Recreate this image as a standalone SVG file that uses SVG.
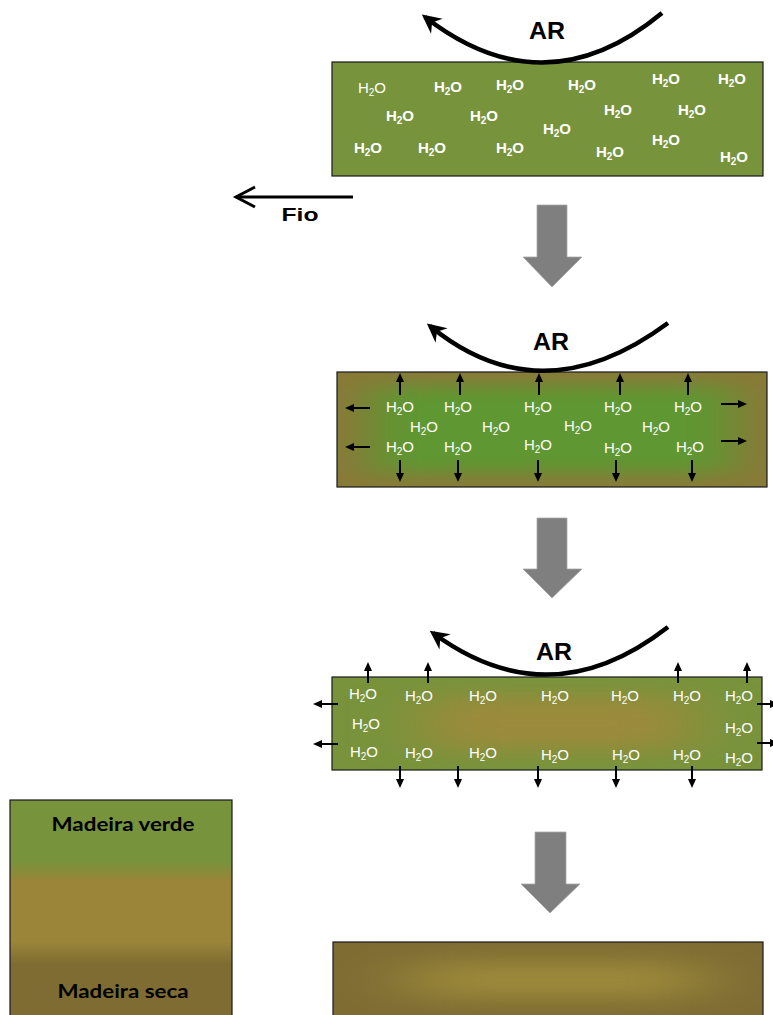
<svg xmlns="http://www.w3.org/2000/svg" width="773" height="1015" viewBox="0 0 773 1015">
  <style>
    .h2o { font-family: "Liberation Sans", Arial, sans-serif; font-size: 15px; fill: #ffffff; text-anchor: middle; }
    .b { font-weight: bold; }
    .sub { font-size: 10px; }
    .ar { font-family: "Liberation Sans", Arial, sans-serif; font-weight: bold; font-size: 23px; fill: #000; text-anchor: middle; }
    .lbl { font-family: "Liberation Sans", Arial, sans-serif; font-weight: bold; font-size: 18px; fill: #000; text-anchor: middle; }
    .legend { font-family: Lato, "Liberation Sans", sans-serif; font-weight: bold; font-size: 18.5px; fill: #000; text-anchor: middle; }
    .flow { fill: none; stroke: #000; stroke-width: 4.5; marker-end: url(#arcHead); }
    .tick { fill: none; stroke: #000; stroke-width: 2; marker-end: url(#tickHead); }
    .step { fill: #7f7f7f; stroke: #a8a8a8; stroke-width: 0.8; }
    .frame { fill: none; stroke: #1a1a1a; stroke-width: 1.2; }
  </style>
  <defs>
    <marker id="arcHead" markerUnits="userSpaceOnUse" orient="auto" refX="0" refY="0" markerWidth="40" markerHeight="40" overflow="visible">
      <path d="M4,0 L-15,-9.5 L-9,0 L-15,9.5 Z" fill="#000"/>
    </marker>
    <marker id="tickHead" markerUnits="userSpaceOnUse" orient="auto" refX="0" refY="0" markerWidth="20" markerHeight="20" overflow="visible">
      <path d="M3,0 L-6,-4 L-6,4 Z" fill="#000"/>
    </marker>
    <marker id="fioHead" markerUnits="userSpaceOnUse" orient="auto" refX="0" refY="0" markerWidth="30" markerHeight="30" overflow="visible">
      <path d="M-19,-10 L0,0 L-19,10" fill="none" stroke="#000" stroke-width="3" stroke-linejoin="miter"/>
    </marker>
    <filter id="blurWide" x="-60%" y="-80%" width="220%" height="260%">
      <feGaussianBlur stdDeviation="24 9"/>
    </filter>
    <filter id="blurMid" x="-60%" y="-80%" width="220%" height="260%">
      <feGaussianBlur stdDeviation="34 11"/>
    </filter>
    <filter id="blurLow" x="-60%" y="-80%" width="220%" height="260%">
      <feGaussianBlur stdDeviation="40 11"/>
    </filter>
    <clipPath id="clip2"><rect x="337" y="372" width="430" height="115"/></clipPath>
    <clipPath id="clip3"><rect x="332" y="677" width="430" height="93"/></clipPath>
    <clipPath id="clip4"><rect x="333" y="942" width="430" height="80"/></clipPath>
    <linearGradient id="legendGrad" x1="0" y1="0" x2="0" y2="1">
      <stop offset="0" stop-color="#77933c"/>
      <stop offset="0.27" stop-color="#77933c"/>
      <stop offset="0.36" stop-color="#9a8539"/>
      <stop offset="0.63" stop-color="#9a8539"/>
      <stop offset="0.73" stop-color="#7f6c33"/>
      <stop offset="1" stop-color="#7f6c33"/>
    </linearGradient>
  </defs>

  <!-- wet board -->
  <g id="board-wet">
    <rect x="332" y="62" width="431" height="114" fill="#77933c" stroke="#1a1a1a" stroke-width="1.2"/>
    <text class="h2o" x="372" y="93">H<tspan class="sub" dy="3">2</tspan><tspan dy="-3">O</tspan></text>
    <text class="h2o b" x="448" y="92">H<tspan class="sub" dy="3">2</tspan><tspan dy="-3">O</tspan></text>
    <text class="h2o b" x="510" y="90">H<tspan class="sub" dy="3">2</tspan><tspan dy="-3">O</tspan></text>
    <text class="h2o b" x="582" y="90">H<tspan class="sub" dy="3">2</tspan><tspan dy="-3">O</tspan></text>
    <text class="h2o b" x="666" y="84">H<tspan class="sub" dy="3">2</tspan><tspan dy="-3">O</tspan></text>
    <text class="h2o b" x="732" y="84">H<tspan class="sub" dy="3">2</tspan><tspan dy="-3">O</tspan></text>
    <text class="h2o b" x="400" y="121">H<tspan class="sub" dy="3">2</tspan><tspan dy="-3">O</tspan></text>
    <text class="h2o b" x="484" y="121">H<tspan class="sub" dy="3">2</tspan><tspan dy="-3">O</tspan></text>
    <text class="h2o b" x="618" y="115">H<tspan class="sub" dy="3">2</tspan><tspan dy="-3">O</tspan></text>
    <text class="h2o b" x="692" y="115">H<tspan class="sub" dy="3">2</tspan><tspan dy="-3">O</tspan></text>
    <text class="h2o b" x="557" y="134">H<tspan class="sub" dy="3">2</tspan><tspan dy="-3">O</tspan></text>
    <text class="h2o b" x="368" y="153">H<tspan class="sub" dy="3">2</tspan><tspan dy="-3">O</tspan></text>
    <text class="h2o b" x="432" y="153">H<tspan class="sub" dy="3">2</tspan><tspan dy="-3">O</tspan></text>
    <text class="h2o b" x="510" y="153">H<tspan class="sub" dy="3">2</tspan><tspan dy="-3">O</tspan></text>
    <text class="h2o b" x="666" y="145">H<tspan class="sub" dy="3">2</tspan><tspan dy="-3">O</tspan></text>
    <text class="h2o b" x="610" y="157">H<tspan class="sub" dy="3">2</tspan><tspan dy="-3">O</tspan></text>
    <text class="h2o b" x="734" y="162">H<tspan class="sub" dy="3">2</tspan><tspan dy="-3">O</tspan></text>
    <text class="ar" x="547" y="39" textLength="36" lengthAdjust="spacingAndGlyphs">AR</text>
  </g>

  <!-- board drying from the surface -->
  <g id="board-surface-dry">
    <g clip-path="url(#clip2)">
      <rect x="337" y="372" width="430" height="115" fill="#887a38"/>
      <rect x="372" y="386" width="360" height="87" fill="#5e9732" filter="url(#blurWide)"/>
    </g>
    <rect class="frame" x="337" y="372" width="430" height="115"/>
    <text class="h2o" x="400" y="412">H<tspan class="sub" dy="3">2</tspan><tspan dy="-3">O</tspan></text>
    <text class="h2o" x="458" y="412">H<tspan class="sub" dy="3">2</tspan><tspan dy="-3">O</tspan></text>
    <text class="h2o" x="538" y="412">H<tspan class="sub" dy="3">2</tspan><tspan dy="-3">O</tspan></text>
    <text class="h2o" x="618" y="412">H<tspan class="sub" dy="3">2</tspan><tspan dy="-3">O</tspan></text>
    <text class="h2o" x="688" y="412">H<tspan class="sub" dy="3">2</tspan><tspan dy="-3">O</tspan></text>
    <text class="h2o" x="424" y="432">H<tspan class="sub" dy="3">2</tspan><tspan dy="-3">O</tspan></text>
    <text class="h2o" x="496" y="432">H<tspan class="sub" dy="3">2</tspan><tspan dy="-3">O</tspan></text>
    <text class="h2o" x="578" y="431">H<tspan class="sub" dy="3">2</tspan><tspan dy="-3">O</tspan></text>
    <text class="h2o" x="656" y="432">H<tspan class="sub" dy="3">2</tspan><tspan dy="-3">O</tspan></text>
    <text class="h2o" x="400" y="452">H<tspan class="sub" dy="3">2</tspan><tspan dy="-3">O</tspan></text>
    <text class="h2o" x="458" y="452">H<tspan class="sub" dy="3">2</tspan><tspan dy="-3">O</tspan></text>
    <text class="h2o" x="538" y="450">H<tspan class="sub" dy="3">2</tspan><tspan dy="-3">O</tspan></text>
    <text class="h2o" x="618" y="453">H<tspan class="sub" dy="3">2</tspan><tspan dy="-3">O</tspan></text>
    <text class="h2o" x="690" y="452">H<tspan class="sub" dy="3">2</tspan><tspan dy="-3">O</tspan></text>
    <text class="ar" x="551" y="350" textLength="36" lengthAdjust="spacingAndGlyphs">AR</text>
  </g>

  <!-- board with a dry core and wet shell -->
  <g id="board-core-dry">
    <g clip-path="url(#clip3)">
      <rect x="332" y="677" width="430" height="93" fill="#78933c"/>
      <rect x="425" y="696" width="265" height="54" fill="#9b8a3a" filter="url(#blurMid)"/>
    </g>
    <rect class="frame" x="332" y="677" width="430" height="93"/>
    <text class="h2o" x="363" y="699">H<tspan class="sub" dy="3">2</tspan><tspan dy="-3">O</tspan></text>
    <text class="h2o" x="419" y="701">H<tspan class="sub" dy="3">2</tspan><tspan dy="-3">O</tspan></text>
    <text class="h2o" x="483" y="701">H<tspan class="sub" dy="3">2</tspan><tspan dy="-3">O</tspan></text>
    <text class="h2o" x="555" y="701">H<tspan class="sub" dy="3">2</tspan><tspan dy="-3">O</tspan></text>
    <text class="h2o" x="625" y="701">H<tspan class="sub" dy="3">2</tspan><tspan dy="-3">O</tspan></text>
    <text class="h2o" x="687" y="701">H<tspan class="sub" dy="3">2</tspan><tspan dy="-3">O</tspan></text>
    <text class="h2o" x="739" y="701">H<tspan class="sub" dy="3">2</tspan><tspan dy="-3">O</tspan></text>
    <text class="h2o" x="366" y="729">H<tspan class="sub" dy="3">2</tspan><tspan dy="-3">O</tspan></text>
    <text class="h2o" x="739" y="733">H<tspan class="sub" dy="3">2</tspan><tspan dy="-3">O</tspan></text>
    <text class="h2o" x="364" y="757">H<tspan class="sub" dy="3">2</tspan><tspan dy="-3">O</tspan></text>
    <text class="h2o" x="419" y="758">H<tspan class="sub" dy="3">2</tspan><tspan dy="-3">O</tspan></text>
    <text class="h2o" x="483" y="758">H<tspan class="sub" dy="3">2</tspan><tspan dy="-3">O</tspan></text>
    <text class="h2o" x="555" y="760">H<tspan class="sub" dy="3">2</tspan><tspan dy="-3">O</tspan></text>
    <text class="h2o" x="626" y="760">H<tspan class="sub" dy="3">2</tspan><tspan dy="-3">O</tspan></text>
    <text class="h2o" x="687" y="760">H<tspan class="sub" dy="3">2</tspan><tspan dy="-3">O</tspan></text>
    <text class="h2o" x="739" y="763">H<tspan class="sub" dy="3">2</tspan><tspan dy="-3">O</tspan></text>
    <text class="ar" x="554" y="660" textLength="36" lengthAdjust="spacingAndGlyphs">AR</text>
  </g>

  <!-- fully dried board -->
  <g id="board-dry">
    <g clip-path="url(#clip4)">
      <rect x="333" y="942" width="430" height="80" fill="#7e6c33"/>
      <rect x="410" y="961" width="290" height="38" fill="#9c893b" filter="url(#blurLow)"/>
    </g>
    <rect class="frame" x="333" y="942" width="430" height="80"/>
  </g>

  <!-- colour key -->
  <g id="legend">
    <rect x="10" y="800" width="222" height="225" fill="url(#legendGrad)" stroke="#1a1a1a" stroke-width="1.2"/>
    <text class="legend" x="123" y="831" textLength="143" lengthAdjust="spacingAndGlyphs">Madeira verde</text>
    <text class="legend" x="123" y="998" textLength="131" lengthAdjust="spacingAndGlyphs">Madeira seca</text>
  </g>

  <!-- connectors: air flow, moisture paths, stage arrows -->
  <g id="connectors">
    <path class="flow" d="M662,13 Q545,110 425,17"/>
    <path class="flow" d="M668,323 Q541,417 430,326"/>
    <path class="flow" d="M668,627 Q550,719 433,633"/>

    <path d="M353,197 L236,197" fill="none" stroke="#000" stroke-width="3" marker-end="url(#fioHead)"/>

    <polygon class="step" points="537,205 567,205 567,257 582,257 552,287 523,257 537,257"/>
    <polygon class="step" points="537,518 567,518 567,569 582,569 552,598 523,569 537,569"/>
    <polygon class="step" points="535,832 566,832 566,884 580,884 550,913 521,884 535,884"/>

    <!-- moisture leaving the surface -->
    <path class="tick" d="M400,395 V376"/>
    <path class="tick" d="M460,395 V376"/>
    <path class="tick" d="M539,395 V376"/>
    <path class="tick" d="M620,395 V376"/>
    <path class="tick" d="M688,395 V376"/>
    <path class="tick" d="M400,460 V479"/>
    <path class="tick" d="M458,460 V479"/>
    <path class="tick" d="M538,460 V479"/>
    <path class="tick" d="M616,460 V479"/>
    <path class="tick" d="M692,460 V479"/>
    <path class="tick" d="M370,408 H348"/>
    <path class="tick" d="M370,447 H348"/>
    <path class="tick" d="M721,404 H744"/>
    <path class="tick" d="M721,441 H744"/>

    <path class="tick" d="M368,683 V665"/>
    <path class="tick" d="M428,683 V665"/>
    <path class="tick" d="M678,683 V665"/>
    <path class="tick" d="M747,683 V665"/>
    <path class="tick" d="M400,766 V785"/>
    <path class="tick" d="M458,766 V785"/>
    <path class="tick" d="M538,766 V785"/>
    <path class="tick" d="M616,766 V785"/>
    <path class="tick" d="M692,766 V785"/>
    <path class="tick" d="M338,704 H316"/>
    <path class="tick" d="M338,744 H316"/>
    <path class="tick" d="M757,704 H776"/>
    <path class="tick" d="M757,743 H776"/>
  </g>

  <!-- grain direction label -->
  <g id="grain">
    <text class="lbl" x="300" y="221" textLength="37" lengthAdjust="spacingAndGlyphs">Fio</text>
  </g>
</svg>
